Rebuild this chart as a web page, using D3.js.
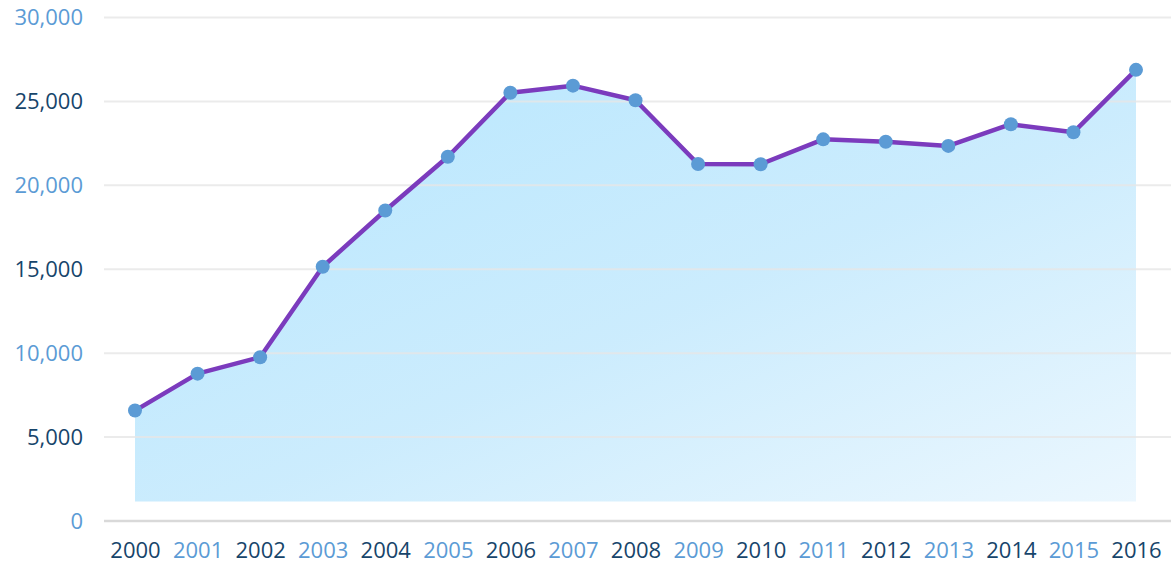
<!DOCTYPE html>
<html>
<head>
<meta charset="utf-8">
<script src="https://cdn.jsdelivr.net/npm/d3@7"></script>
<style>
    body { margin: 0; background: #fff; }
    svg { display: block; }
    .tickLabel { font-family: "Open Sans", sans-serif; font-size: 22px; }
</style>
</head>
<body>
<div id="plotSect"></div>
<script>
/* global d3 */

let years = ["2000","2001","2002","2003","2004","2005","2006","2007","2008",
             "2009","2010","2011","2012","2013","2014","2015","2016"];
let values = [6580, 8780, 9760, 15150, 18500, 21700, 25520, 25940, 25070,
              21270, 21260, 22740, 22600, 22350, 23640, 23160, 26880];
let yTicks = [0, 5000, 10000, 15000, 20000, 25000, 30000];
let areaBase = 1160;

let SVGwidth = 1171,
    SVGheight = 565,
    margin = {top: 17.5, right: 35, bottom: 44, left: 135},
    width = SVGwidth - margin.left - margin.right,
    height = SVGheight - margin.top - margin.bottom;

let darkText = "#17456b",
    lightText = "#5b9bd5";

let svg = d3.select("#plotSect").append("svg")
    .attr("width", SVGwidth)
    .attr("height", SVGheight)
    .append("g")
    .attr("transform", "translate(" + margin.left + "," + margin.top + ")");

let xScale = d3.scalePoint().domain(years).range([0, width]);
let yScale = d3.scaleLinear().domain([0, 30000]).range([height, 0]);

let defs = svg.append("defs");
let grad = defs.append("linearGradient")
    .attr("id", "areaGrad")
    .attr("x1", "0%").attr("y1", "0%")
    .attr("x2", "100%").attr("y2", "100%");
grad.append("stop").attr("offset", "0%").attr("stop-color", "#b2e5fe").attr("stop-opacity", 0.94);
grad.append("stop").attr("offset", "55%").attr("stop-color", "#c6eafd").attr("stop-opacity", 0.9);
grad.append("stop").attr("offset", "100%").attr("stop-color", "#e9f6fe").attr("stop-opacity", 0.9);

// area first so the grid shows through
let area = d3.area()
    .x(function(d, i) { return xScale(years[i]); })
    .y0(yScale(areaBase))
    .y1(function(d) { return yScale(d); });

svg.append("path")
    .datum(values)
    .attr("d", area)
    .attr("fill", "url(#areaGrad)");

// grid
let gridLeft = -31;
svg.selectAll(".grid")
    .data(yTicks.filter(function(d) { return d > 0; }))
    .enter().append("line")
    .attr("class", "grid")
    .attr("x1", gridLeft)
    .attr("x2", SVGwidth - margin.left)
    .attr("y1", function(d) { return yScale(d); })
    .attr("y2", function(d) { return yScale(d); })
    .attr("stroke", "#e6e6e6")
    .attr("stroke-opacity", 0.8)
    .attr("stroke-width", 2);

svg.append("line")
    .attr("x1", gridLeft)
    .attr("x2", SVGwidth - margin.left)
    .attr("y1", yScale(0))
    .attr("y2", yScale(0))
    .attr("stroke", "#d9d9d9")
    .attr("stroke-width", 2.5);

// y labels
let yAxis = d3.axisLeft(yScale)
    .tickValues(yTicks)
    .tickSize(0)
    .tickPadding(52)
    .tickFormat(d3.format(","));
let yG = svg.append("g").attr("class", "yAxis").call(yAxis);
yG.select(".domain").remove();
yG.selectAll("text")
    .attr("class", "tickLabel")
    .attr("fill", function(d, i) { return i % 2 == 0 ? lightText : darkText; });

// x labels
let xAxis = d3.axisBottom(xScale).tickSize(0).tickPadding(21);
let xG = svg.append("g").attr("class", "xAxis")
    .attr("transform", "translate(0," + height + ")")
    .call(xAxis);
xG.select(".domain").remove();
xG.selectAll("text")
    .attr("class", "tickLabel")
    .attr("fill", function(d, i) { return i % 2 == 0 ? darkText : lightText; });

// line + points
let line = d3.line()
    .x(function(d, i) { return xScale(years[i]); })
    .y(function(d) { return yScale(d); });

svg.append("path")
    .datum(values)
    .attr("d", line)
    .attr("fill", "none")
    .attr("stroke", "#7b3bbd")
    .attr("stroke-width", 4.5)
    .attr("stroke-linejoin", "round");

svg.selectAll(".point")
    .data(values)
    .enter().append("circle")
    .attr("class", "point")
    .attr("r", 7)
    .attr("cx", function(d, i) { return xScale(years[i]); })
    .attr("cy", function(d) { return yScale(d); })
    .attr("fill", "#5b9bd5");
</script>
</body>
</html>
